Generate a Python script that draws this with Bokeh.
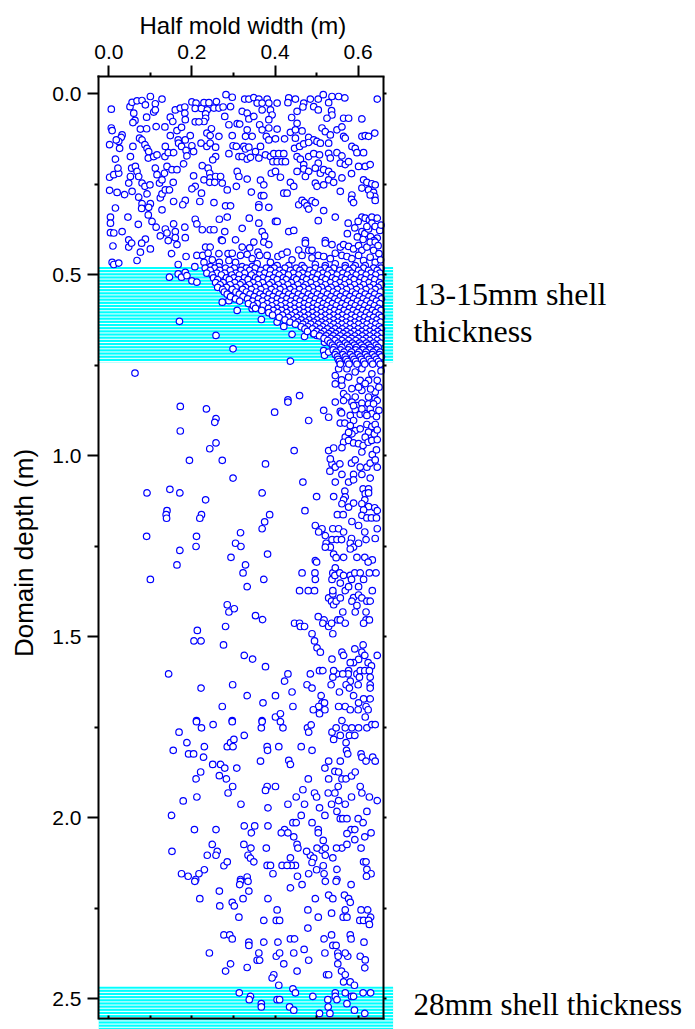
import numpy as np
from bokeh.plotting import figure
from bokeh.models import (Range1d, LinearAxis, FixedTicker, PrintfTickFormatter, Label,
                          CustomJSTickFormatter)
from bokeh.embed import file_html
from bokeh.resources import INLINE

# ---------------- data ----------------
x_major = [0.0, 0.2, 0.4, 0.6]
x_minor = [0.1, 0.3, 0.5]
y_major = [0.0, 0.5, 1.0, 1.5, 2.0, 2.5]
y_minor = [0.25, 0.75, 1.25, 1.75, 2.25]

shell_bands = [(0.478, 0.741), (2.466, 2.60)]
band_text = [["13-15mm shell", "thickness"], ["28mm shell thickness"]]

upper_pts = [
(0.006,0.042),(0.051,0.035),(0.056,0.023),(0.068,0.019),(0.080,0.018),(0.088,0.030),(0.100,0.007),(0.112,0.027),(0.128,0.014),(0.060,0.053),(0.063,0.073),(0.058,0.079),(0.091,0.064),(0.108,0.050),(0.112,0.044),(0.148,0.064),(0.154,0.076),(0.160,0.044),(0.172,0.039),(0.183,0.036),(0.183,0.053),(0.184,0.071),(0.200,0.022),(0.210,0.025),(0.208,0.040),(0.223,0.040),(0.229,0.024),(0.241,0.024),(0.259,0.021),(0.237,0.044),(0.233,0.055),(0.233,0.067),(0.229,0.076),(0.253,0.039),(0.265,0.039),(0.275,0.036),(0.279,0.062),(0.282,0.002),(0.297,0.009),(0.293,0.035),(0.327,0.014),(0.337,0.014),(0.349,0.010),(0.361,0.014),(0.381,0.014),(0.357,0.025),(0.369,0.025),(0.385,0.025),(0.405,0.025),(0.321,0.048),(0.333,0.053),(0.337,0.069),(0.349,0.062),(0.369,0.044),(0.389,0.044),(0.393,0.058),(0.385,0.071),(0.433,0.011),(0.449,0.014),(0.431,0.024),(0.469,0.025),(0.453,0.048),(0.440,0.065),(0.467,0.036),(0.485,0.014),(0.504,0.014),(0.516,0.002),(0.537,0.007),(0.553,0.007),(0.568,0.011),(0.529,0.024),(0.493,0.035),(0.504,0.044),(0.536,0.046),(0.537,0.058),(0.525,0.067),(0.565,0.067),(0.577,0.067),(0.609,0.069),(0.646,0.014),
(0.006,0.094),(0.008,0.101),(0.032,0.113),(0.030,0.120),(0.002,0.140),(0.024,0.131),(0.076,0.097),(0.091,0.096),(0.074,0.122),(0.114,0.090),(0.135,0.091),(0.164,0.101),(0.175,0.092),(0.148,0.115),(0.167,0.127),(0.184,0.127),(0.196,0.115),(0.208,0.077),(0.217,0.077),(0.247,0.096),(0.236,0.108),(0.244,0.115),(0.265,0.117),(0.289,0.085),(0.309,0.082),(0.315,0.083),(0.297,0.115),(0.333,0.099),(0.329,0.117),(0.345,0.117),(0.363,0.085),(0.369,0.099),(0.385,0.094),(0.405,0.097),(0.379,0.117),(0.385,0.127),(0.401,0.124),(0.423,0.124),(0.437,0.106),(0.449,0.099),(0.465,0.102),(0.453,0.081),(0.449,0.122),(0.481,0.120),(0.493,0.127),(0.513,0.094),(0.521,0.104),(0.533,0.113),(0.549,0.099),(0.561,0.091),(0.565,0.117),(0.569,0.122),(0.609,0.117),(0.617,0.115),(0.625,0.117),(0.640,0.108),
(0.018,0.127),(0.026,0.150),(0.016,0.180),(0.052,0.173),(0.058,0.145),(0.080,0.127),(0.087,0.140),(0.092,0.150),(0.096,0.159),(0.095,0.177),(0.108,0.173),(0.116,0.168),(0.136,0.145),(0.135,0.173),(0.143,0.162),(0.156,0.162),(0.168,0.136),(0.175,0.145),(0.186,0.156),(0.188,0.171),(0.200,0.143),(0.204,0.159),(0.222,0.136),(0.236,0.145),(0.244,0.136),(0.257,0.147),(0.257,0.173),(0.250,0.182),(0.289,0.165),(0.299,0.143),(0.307,0.145),(0.313,0.173),(0.325,0.145),(0.329,0.152),(0.337,0.147),(0.321,0.173),(0.333,0.180),(0.341,0.175),(0.353,0.159),(0.365,0.145),(0.361,0.177),(0.377,0.168),(0.389,0.173),(0.397,0.165),(0.409,0.165),(0.421,0.165),(0.395,0.187),(0.405,0.187),(0.417,0.187),(0.425,0.187),(0.447,0.150),(0.459,0.145),(0.469,0.138),(0.481,0.134),(0.501,0.131),(0.509,0.136),(0.529,0.136),(0.549,0.162),(0.561,0.171),(0.557,0.191),(0.569,0.195),(0.577,0.187),(0.585,0.145),(0.593,0.150),(0.597,0.162),(0.613,0.162),(0.481,0.173),(0.493,0.165),(0.507,0.168),(0.529,0.164),(0.533,0.177),(0.453,0.173),(0.461,0.180),(0.504,0.191),
(0.002,0.230),(0.012,0.223),(0.024,0.219),(0.022,0.205),(0.055,0.205),(0.052,0.228),(0.048,0.246),(0.064,0.200),(0.068,0.214),(0.072,0.228),(0.080,0.246),(0.087,0.255),(0.099,0.251),(0.112,0.205),(0.116,0.223),(0.122,0.246),(0.128,0.237),(0.134,0.219),(0.140,0.200),(0.152,0.209),(0.164,0.209),(0.155,0.244),(0.180,0.193),(0.204,0.226),(0.208,0.255),(0.225,0.198),(0.229,0.237),(0.239,0.205),(0.243,0.219),(0.244,0.232),(0.243,0.244),(0.257,0.228),(0.269,0.228),(0.255,0.244),(0.273,0.246),(0.309,0.214),(0.313,0.228),(0.307,0.255),(0.333,0.235),(0.365,0.238),(0.373,0.251),(0.391,0.219),(0.401,0.214),(0.413,0.230),(0.437,0.244),(0.445,0.255),(0.453,0.214),(0.469,0.195),(0.469,0.207),(0.481,0.214),(0.473,0.228),(0.497,0.205),(0.509,0.219),(0.517,0.209),(0.529,0.214),(0.537,0.223),(0.529,0.237),(0.541,0.244),(0.497,0.246),(0.501,0.255),(0.517,0.251),(0.561,0.232),(0.584,0.220),(0.613,0.237),(0.621,0.244),(0.633,0.248),(0.641,0.251),(0.617,0.200),(0.629,0.195),(0.601,0.200),
(0.002,0.266),(0.020,0.272),(0.038,0.278),(0.056,0.269),(0.072,0.285),(0.092,0.276),(0.080,0.303),(0.079,0.316),(0.100,0.303),(0.096,0.313),(0.124,0.287),(0.128,0.276),(0.136,0.265),(0.146,0.265),(0.156,0.297),(0.128,0.320),(0.184,0.294),(0.178,0.306),(0.200,0.262),(0.223,0.274),(0.219,0.297),(0.253,0.300),(0.285,0.265),(0.281,0.309),(0.293,0.309),(0.343,0.271),(0.367,0.281),(0.373,0.281),(0.361,0.306),(0.361,0.313),(0.385,0.313),(0.421,0.274),(0.429,0.274),(0.457,0.306),(0.465,0.294),(0.471,0.300),(0.477,0.309),(0.489,0.295),(0.497,0.300),(0.481,0.318),(0.517,0.322),(0.557,0.269),(0.585,0.279),(0.584,0.291),(0.589,0.300),(0.609,0.260),(0.625,0.265),(0.637,0.272),(0.640,0.283),(0.641,0.294),(0.629,0.279),
(0.016,0.315),(0.004,0.340),(0.004,0.357),(0.004,0.383),(0.012,0.384),(0.032,0.380),(0.046,0.340),(0.048,0.403),(0.071,0.360),(0.088,0.401),(0.095,0.334),(0.104,0.352),(0.114,0.368),(0.124,0.392),(0.136,0.373),(0.140,0.384),(0.156,0.359),(0.160,0.380),(0.160,0.397),(0.184,0.397),(0.183,0.368),(0.208,0.346),(0.212,0.359),(0.225,0.375),(0.244,0.375),(0.253,0.375),(0.266,0.346),(0.279,0.380),(0.285,0.340),(0.271,0.403),(0.305,0.403),(0.321,0.371),(0.338,0.343),(0.361,0.357),(0.369,0.380),(0.375,0.392),(0.401,0.352),(0.405,0.352),(0.433,0.380),(0.445,0.377),(0.473,0.405),(0.504,0.350),(0.521,0.405),(0.545,0.340),(0.574,0.386),(0.576,0.357),(0.609,0.340),(0.617,0.343),(0.627,0.348),(0.633,0.340),(0.646,0.343),(0.609,0.380),(0.616,0.386),(0.625,0.373),(0.630,0.394),(0.646,0.398),(0.633,0.357),(0.621,0.366),
(0.600,0.352),(0.641,0.366),(0.652,0.377),(0.598,0.395),(0.612,0.402),(0.638,0.405),(0.655,0.362),(0.592,0.370),
]

band_upper_pts = [
(0.010,0.420),(0.048,0.423),(0.055,0.412),(0.079,0.412),(0.076,0.437),(0.068,0.460),(0.008,0.465),(0.012,0.471),(0.024,0.467),(0.100,0.428),(0.143,0.405),(0.164,0.416),(0.151,0.441),(0.186,0.449),(0.212,0.446),(0.167,0.471),(0.207,0.477),(0.233,0.423),(0.244,0.423),(0.226,0.446),(0.239,0.440),(0.229,0.465),(0.249,0.458),(0.265,0.441),(0.266,0.465),(0.273,0.405),(0.287,0.441),(0.297,0.440),(0.289,0.460),(0.305,0.465),(0.317,0.446),(0.321,0.423),(0.339,0.425),(0.349,0.409),(0.333,0.443),(0.345,0.455),(0.359,0.437),(0.363,0.446),(0.373,0.409),(0.385,0.416),(0.381,0.446),(0.389,0.465),(0.357,0.469),(0.407,0.449),(0.417,0.443),(0.429,0.437),(0.441,0.458),(0.457,0.431),(0.473,0.412),(0.481,0.432),(0.489,0.432),(0.465,0.446),(0.489,0.453),(0.504,0.446),(0.517,0.449),(0.521,0.412),(0.537,0.416),(0.545,0.440),(0.533,0.455),(0.557,0.423),(0.565,0.416),(0.577,0.421),(0.589,0.428),(0.601,0.419),(0.609,0.432),(0.621,0.423),(0.629,0.409),(0.641,0.409),(0.648,0.419),(0.637,0.432),(0.650,0.441),(0.561,0.446),(0.573,0.449),(0.585,0.455),(0.601,0.446),(0.613,0.460),(0.629,0.451),(0.641,0.465),(0.654,0.458),(0.617,0.474),(0.593,0.474),(0.569,0.474),(0.545,0.469),(0.521,0.474),(0.497,0.471),(0.465,0.474),(0.433,0.474),(0.405,0.474),(0.345,0.477),(0.321,0.477),(0.265,0.477),(0.245,0.477),
]

band_outlier_pts = [
(0.146,0.506),(0.167,0.497),(0.175,0.506),(0.184,0.493),(0.188,0.502),(0.200,0.516),(0.212,0.520),(0.170,0.628),(0.258,0.667),(0.299,0.704),(0.437,0.738),(0.063,0.771),(0.273,0.575),(0.289,0.571),(0.309,0.598),(0.367,0.623),(0.345,0.593),(0.377,0.589),(0.389,0.603),(0.405,0.630),(0.421,0.642),(0.441,0.664),(0.449,0.626),(0.471,0.670),(0.493,0.663),(0.501,0.667),(0.519,0.686),(0.517,0.709),(0.519,0.722),(0.529,0.713),
]

band_depths = [0.481, 0.487, 0.495, 0.500, 0.508, 0.513, 0.521, 0.527, 0.534, 0.540, 0.547, 0.553, 0.560, 0.566,
               0.572, 0.579, 0.585, 0.592, 0.598, 0.604, 0.611, 0.617, 0.624, 0.630, 0.636, 0.643, 0.649, 0.656,
               0.662, 0.668, 0.675, 0.681, 0.688, 0.694, 0.700, 0.707, 0.713, 0.720, 0.726, 0.733, 0.739, 0.746]
band_rows = [
[0.232,0.255,0.281,0.302,0.331,0.352,0.379,0.398,0.424,0.451,0.470,0.497,0.520,0.541,0.569,0.588,0.613,0.637,0.655],
[0.244,0.267,0.292,0.318,0.339,0.366,0.389,0.411,0.437,0.460,0.484,0.509,0.530,0.556,0.578,0.601,0.625,0.646],
[0.236,0.260,0.279,0.306,0.327,0.349,0.375,0.401,0.419,0.444,0.466,0.492,0.515,0.536,0.563,0.585,0.608,0.631,0.652],
[0.249,0.271,0.296,0.314,0.343,0.362,0.387,0.410,0.432,0.457,0.479,0.503,0.526,0.549,0.574,0.595,0.619,0.642],
[0.252,0.283,0.301,0.326,0.353,0.371,0.396,0.420,0.446,0.468,0.489,0.514,0.538,0.561,0.583,0.607,0.631,0.655],
[0.262,0.290,0.312,0.335,0.359,0.383,0.405,0.427,0.452,0.476,0.498,0.522,0.546,0.569,0.590,0.616,0.640],
[0.257,0.275,0.303,0.321,0.347,0.370,0.392,0.417,0.439,0.463,0.486,0.509,0.533,0.556,0.578,0.602,0.626,0.651],
[0.268,0.292,0.316,0.338,0.360,0.386,0.408,0.431,0.455,0.474,0.499,0.521,0.545,0.567,0.591,0.613,0.637,0.656],
[0.262,0.283,0.306,0.329,0.352,0.376,0.399,0.420,0.444,0.468,0.490,0.512,0.535,0.559,0.581,0.604,0.628,0.648],
[0.274,0.297,0.322,0.343,0.366,0.391,0.412,0.436,0.459,0.481,0.504,0.528,0.550,0.572,0.596,0.619,0.641],
[0.278,0.306,0.331,0.355,0.379,0.401,0.425,0.447,0.470,0.493,0.517,0.540,0.562,0.586,0.608,0.632,0.654],
[0.285,0.314,0.340,0.364,0.386,0.410,0.433,0.456,0.480,0.502,0.526,0.549,0.571,0.594,0.617,0.640],
[0.293,0.323,0.350,0.372,0.395,0.419,0.442,0.465,0.488,0.511,0.535,0.557,0.580,0.603,0.626,0.650],
[0.305,0.334,0.360,0.382,0.405,0.428,0.451,0.474,0.497,0.520,0.544,0.566,0.589,0.612,0.635,0.656],
[0.315,0.346,0.370,0.392,0.415,0.438,0.460,0.483,0.507,0.529,0.552,0.575,0.598,0.621,0.644],
[0.336,0.357,0.381,0.403,0.425,0.447,0.470,0.493,0.516,0.538,0.561,0.584,0.607,0.630,0.652],
[0.348,0.372,0.393,0.414,0.436,0.458,0.480,0.502,0.525,0.547,0.570,0.593,0.616,0.639],
[0.353,0.384,0.405,0.426,0.447,0.468,0.490,0.512,0.534,0.557,0.579,0.602,0.625,0.648],
[0.368,0.396,0.416,0.437,0.458,0.479,0.500,0.521,0.543,0.566,0.588,0.611,0.634,0.655],
[0.385,0.407,0.428,0.449,0.469,0.490,0.511,0.531,0.553,0.575,0.597,0.620,0.642],
[0.394,0.418,0.440,0.460,0.480,0.500,0.521,0.541,0.562,0.584,0.606,0.628,0.650],
[0.410,0.432,0.452,0.471,0.491,0.511,0.531,0.551,0.572,0.593,0.615,0.637,0.656],
[0.424,0.444,0.463,0.482,0.501,0.521,0.541,0.561,0.582,0.603,0.624,0.645],
[0.436,0.455,0.474,0.493,0.512,0.531,0.551,0.571,0.592,0.612,0.633,0.654],
[0.449,0.467,0.486,0.504,0.522,0.541,0.561,0.581,0.601,0.621,0.642],
[0.463,0.479,0.497,0.515,0.533,0.551,0.570,0.590,0.610,0.630,0.650],
[0.472,0.490,0.508,0.526,0.544,0.562,0.580,0.600,0.619,0.639,0.656],
[0.478,0.500,0.518,0.536,0.554,0.572,0.590,0.609,0.628,0.647],
[0.494,0.511,0.529,0.546,0.564,0.582,0.600,0.618,0.637,0.655],
[0.507,0.523,0.540,0.557,0.574,0.592,0.610,0.628,0.646],
[0.518,0.534,0.550,0.567,0.584,0.601,0.619,0.637,0.655],
[0.527,0.544,0.561,0.577,0.594,0.611,0.628,0.646],
[0.533,0.552,0.569,0.586,0.603,0.620,0.637,0.654],
[0.538,0.556,0.574,0.591,0.608,0.625,0.643],
[0.542,0.561,0.579,0.596,0.613,0.630,0.648],
[0.540,0.558,0.576,0.594,0.611,0.628,0.645],
[0.547,0.566,0.584,0.602,0.619,0.636,0.653],
[0.545,0.563,0.581,0.599,0.617,0.634,0.651],
[0.550,0.569,0.587,0.605,0.622,0.640,0.656],
[0.552,0.571,0.590,0.608,0.626,0.644],
[0.555,0.575,0.594,0.613,0.631,0.649],
[0.557,0.578,0.597,0.616,0.635,0.653],
]

transition_pts = [
(0.545,0.778),(0.561,0.805),(0.565,0.828),(0.573,0.837),(0.593,0.768),(0.605,0.791),(0.609,0.819),(0.625,0.837),(0.641,0.823),(0.650,0.810),(0.633,0.773),(0.577,0.782),(0.585,0.814),(0.641,0.842),(0.593,0.837),(0.646,0.791),(0.553,0.759),(0.609,0.759),(0.625,0.791),(0.573,0.759),(0.601,0.810),(0.545,0.801),(0.459,0.833),(0.431,0.845),(0.617,0.800),(0.655,0.765),(0.560,0.790),(0.630,0.815),
]

mid_pts = [
(0.172,0.863),(0.235,0.870),(0.258,0.897),(0.255,0.907),(0.172,0.931),(0.258,0.964),(0.243,0.980),(0.194,1.012),(0.273,1.012),(0.377,1.022),(0.299,1.061),(0.399,0.879),(0.431,0.851),(0.481,0.902),(0.446,0.985),(0.467,1.072),(0.092,1.102),(0.147,1.092),(0.171,1.102),(0.233,1.121),(0.369,1.102),(0.500,1.112),(0.140,1.151),(0.138,1.162),(0.139,1.172),(0.223,1.162),(0.219,1.172),(0.387,1.162),(0.375,1.182),(0.472,1.151),(0.091,1.222),(0.211,1.222),(0.317,1.212),(0.305,1.241),(0.318,1.250),(0.369,1.201),(0.171,1.261),(0.210,1.250),(0.294,1.280),(0.382,1.271),(0.497,1.192),(0.497,1.289),
(0.517,0.874),(0.529,0.893),(0.557,0.877),(0.560,0.881),(0.557,0.909),(0.568,0.909),(0.545,0.851),(0.565,0.847),(0.585,0.851),(0.597,0.861),(0.609,0.854),(0.625,0.856),(0.646,0.847),(0.593,0.872),(0.605,0.885),(0.617,0.883),(0.629,0.870),(0.633,0.883),(0.644,0.891),(0.581,0.888),(0.589,0.902),(0.581,0.916),(0.593,0.930),(0.585,0.939),(0.605,0.925),(0.621,0.913),(0.633,0.919),(0.641,0.913),(0.625,0.934),(0.617,0.948),(0.569,0.948),(0.565,0.962),(0.577,0.957),(0.589,0.964),(0.601,0.966),(0.612,0.971),(0.624,0.962),(0.633,0.957),(0.646,0.955),(0.529,0.985),(0.541,0.978),(0.561,0.977),(0.609,0.989),(0.634,0.996),(0.644,0.983),
(0.537,1.022),(0.533,1.008),(0.545,1.031),(0.532,1.042),(0.556,1.022),(0.584,1.020),(0.593,1.011),(0.605,1.031),(0.621,1.031),(0.629,1.020),(0.646,1.031),(0.641,1.011),(0.561,1.051),(0.545,1.072),(0.577,1.072),(0.589,1.051),(0.589,1.066),(0.609,1.051),(0.629,1.061),(0.612,1.091),(0.625,1.091),(0.568,1.097),(0.541,1.112),(0.569,1.113),(0.565,1.121),(0.561,1.132),(0.577,1.141),(0.589,1.130),(0.617,1.104),(0.625,1.102),(0.616,1.121),(0.609,1.132),(0.625,1.140),(0.640,1.143),(0.646,1.151),(0.613,1.149),(0.609,1.164),(0.621,1.171),(0.632,1.171),(0.644,1.171),(0.550,1.162),(0.564,1.162),(0.585,1.181),(0.601,1.192),(0.616,1.210),(0.646,1.201),
(0.513,1.201),(0.505,1.210),(0.521,1.220),(0.539,1.201),(0.553,1.201),(0.565,1.210),(0.537,1.231),(0.549,1.231),(0.560,1.231),(0.584,1.228),(0.523,1.241),(0.533,1.252),(0.521,1.252),(0.581,1.241),(0.589,1.252),(0.601,1.241),(0.581,1.257),(0.541,1.271),(0.565,1.280),(0.547,1.281),(0.597,1.280),(0.616,1.280),(0.634,1.287),(0.619,1.231),(0.641,1.228),
(0.589,0.861),(0.609,0.870),(0.621,0.888),(0.637,0.856),(0.650,0.874),(0.577,0.935),(0.639,0.939),(0.646,0.928),
]

lower_pts = [
(0.164,1.301),(0.100,1.341),(0.329,1.301),(0.323,1.323),(0.333,1.361),(0.373,1.341),(0.285,1.411),(0.289,1.431),(0.302,1.422),(0.353,1.441),(0.370,1.452),(0.281,1.471),(0.213,1.482),(0.205,1.511),(0.222,1.511),(0.276,1.522),(0.326,1.551),(0.346,1.561),(0.377,1.582),(0.144,1.602),(0.222,1.641),(0.298,1.632),(0.333,1.662),(0.273,1.692),(0.371,1.682),(0.401,1.662),(0.423,1.622),(0.431,1.602),(0.441,1.652),(0.443,1.692),(0.401,1.721),(0.413,1.712),(0.211,1.731),(0.297,1.731),(0.369,1.731),
(0.447,1.462),(0.459,1.462),(0.461,1.471),(0.471,1.471),(0.465,1.323),(0.459,1.372),(0.480,1.372),(0.495,1.372),(0.496,1.323),(0.497,1.341),(0.500,1.293),(0.489,1.491),(0.495,1.511),(0.501,1.530),(0.509,1.542),(0.485,1.602),(0.477,1.632),(0.489,1.641),(0.507,1.593),(0.515,1.593),
(0.504,1.444),(0.518,1.453),(0.515,1.462),(0.529,1.471),(0.539,1.491),(0.536,1.462),(0.551,1.453),(0.557,1.453),(0.569,1.462),(0.529,1.392),(0.539,1.381),(0.539,1.372),(0.536,1.401),(0.541,1.411),(0.547,1.401),(0.557,1.392),(0.563,1.431),(0.569,1.372),(0.537,1.341),(0.539,1.323),(0.545,1.309),(0.544,1.330),(0.556,1.323),(0.565,1.330),(0.557,1.351),(0.581,1.330),(0.584,1.341),(0.592,1.323),(0.605,1.323),(0.613,1.341),(0.627,1.323),(0.643,1.323),(0.624,1.293),
(0.577,1.361),(0.601,1.361),(0.634,1.372),(0.589,1.391),(0.601,1.384),(0.609,1.392),(0.621,1.401),(0.629,1.401),(0.585,1.401),(0.597,1.413),(0.593,1.431),(0.619,1.431),(0.619,1.453),(0.627,1.453),(0.613,1.462),
(0.561,1.542),(0.565,1.551),(0.592,1.533),(0.612,1.522),(0.609,1.542),(0.616,1.551),(0.601,1.562),(0.589,1.571),(0.581,1.571),(0.624,1.571),(0.632,1.580),(0.646,1.551),(0.577,1.593),(0.597,1.602),(0.605,1.593),(0.616,1.593),(0.627,1.593),(0.576,1.602),(0.549,1.602),(0.563,1.602),(0.539,1.611),(0.603,1.611),(0.629,1.611),(0.581,1.622),(0.571,1.632),(0.579,1.641),(0.600,1.632),(0.629,1.632),(0.629,1.641),(0.535,1.632),(0.555,1.652),(0.589,1.662),(0.613,1.671),(0.629,1.671),(0.601,1.682),(0.619,1.692),(0.624,1.701),(0.617,1.721),(0.600,1.701),(0.569,1.692),(0.581,1.701),(0.553,1.692),
(0.511,1.662),(0.513,1.682),(0.519,1.682),(0.505,1.692),(0.492,1.701),(0.507,1.712),(0.520,1.701),(0.561,1.731),(0.537,1.561),(0.541,1.593),
]

deep_pts = [
(0.211,1.734),(0.223,1.751),(0.251,1.742),(0.297,1.734),(0.367,1.751),(0.369,1.734),(0.413,1.734),(0.419,1.751),(0.478,1.751),(0.481,1.763),(0.487,1.743),(0.169,1.763),(0.188,1.792),(0.155,1.813),(0.192,1.823),(0.204,1.823),(0.230,1.803),(0.228,1.832),(0.285,1.803),(0.293,1.792),(0.301,1.783),(0.299,1.803),(0.326,1.772),(0.381,1.803),(0.382,1.813),(0.409,1.803),(0.463,1.803),(0.489,1.813),
(0.250,1.852),(0.269,1.852),(0.279,1.862),(0.221,1.873),(0.210,1.892),(0.266,1.883),(0.283,1.892),(0.308,1.862),(0.365,1.843),(0.433,1.841),(0.437,1.852),(0.298,1.913),(0.287,1.931),(0.212,1.942),(0.179,1.953),(0.318,1.962),(0.151,1.993),(0.381,1.913),(0.377,1.924),(0.401,1.913),(0.383,1.972),(0.431,1.962),(0.451,1.942),(0.467,1.922),(0.480,1.892),(0.495,1.931),(0.500,1.942),(0.471,1.962),(0.463,1.993),(0.443,2.013),(0.451,2.013),(0.489,2.013),(0.507,1.972),(0.520,1.993),
(0.520,1.862),(0.529,1.843),(0.557,1.843),(0.544,1.871),(0.553,1.873),(0.529,1.892),(0.552,1.913),(0.561,1.892),(0.571,1.892),(0.584,1.884),(0.593,1.873),(0.528,1.931),(0.544,1.931),(0.553,1.952),(0.569,1.962),(0.584,1.942),(0.605,1.913),(0.609,1.931),(0.627,1.942),(0.646,1.952),(0.536,1.962),(0.549,1.982),(0.557,2.002),(0.563,2.002),(0.573,2.002),(0.600,2.002),(0.612,2.013),(0.621,1.982),
(0.537,1.763),(0.547,1.751),(0.541,1.783),(0.557,1.772),(0.569,1.751),(0.585,1.751),(0.601,1.751),(0.621,1.751),(0.633,1.742),(0.641,1.742),(0.579,1.772),(0.592,1.772),(0.571,1.792),(0.572,1.813),(0.575,1.823),(0.607,1.823),(0.609,1.832),(0.619,1.843),(0.635,1.832),(0.641,1.843),
(0.583,2.032),(0.592,2.032),(0.573,2.043),(0.592,2.060),(0.616,2.052),(0.631,2.041),(0.561,2.083),(0.548,2.083),(0.573,2.073),(0.607,2.083),(0.516,2.062),(0.513,2.089),(0.521,2.083),(0.539,2.110),(0.521,2.103),(0.501,2.083),(0.485,2.103),(0.476,2.092),(0.493,2.111),(0.489,2.123),(0.516,2.132),(0.549,2.142),(0.481,2.154),(0.500,2.143),(0.518,2.154),(0.454,2.161),
(0.453,2.073),(0.455,2.083),(0.437,2.110),(0.449,2.131),(0.439,2.131),(0.417,2.131),(0.429,2.131),(0.423,2.032),(0.415,2.041),(0.431,2.041),(0.445,2.052),(0.504,2.032),(0.504,2.041),(0.383,2.022),(0.379,2.083),(0.351,2.022),(0.343,2.041),(0.326,2.022),(0.325,2.073),(0.342,2.083),(0.335,2.103),(0.341,2.111),(0.349,2.121),(0.381,2.131),(0.389,2.131),(0.395,2.154),(0.333,2.163),(0.317,2.170),
(0.258,2.032),(0.206,2.032),(0.249,2.073),(0.261,2.092),(0.258,2.103),(0.237,2.103),(0.152,2.092),(0.277,2.132),(0.285,2.121),(0.230,2.143),(0.217,2.154),(0.191,2.161),(0.175,2.154),(0.209,2.170),(0.549,2.170),(0.613,2.121),(0.619,2.121),(0.621,2.142),(0.631,2.154),(0.620,2.161),
]

bottom_pts = [
(0.207,2.175),(0.317,2.175),(0.315,2.184),(0.335,2.175),(0.337,2.202),(0.266,2.202),(0.219,2.223),(0.267,2.243),(0.297,2.233),(0.302,2.243),(0.323,2.223),(0.313,2.274),(0.383,2.223),(0.373,2.283),(0.405,2.254),(0.403,2.283),(0.411,2.283),(0.437,2.193),(0.465,2.184),(0.521,2.175),(0.547,2.175),(0.583,2.184),(0.497,2.223),(0.529,2.213),(0.539,2.223),(0.567,2.213),(0.577,2.223),(0.581,2.233),(0.479,2.254),(0.504,2.274),(0.536,2.263),(0.564,2.274),(0.573,2.274),(0.569,2.254),(0.607,2.254),(0.623,2.254),(0.630,2.274),(0.604,2.283),(0.613,2.283),(0.625,2.283),(0.627,2.294),(0.479,2.304),
(0.277,2.323),(0.291,2.323),(0.297,2.334),(0.337,2.343),(0.337,2.352),(0.373,2.343),(0.407,2.343),(0.437,2.334),(0.447,2.334),(0.518,2.334),(0.536,2.323),(0.539,2.352),(0.547,2.352),(0.581,2.323),(0.583,2.334),(0.614,2.343),(0.242,2.373),(0.293,2.403),(0.281,2.423),(0.333,2.413),(0.361,2.373),(0.357,2.393),(0.363,2.393),(0.403,2.382),(0.411,2.373),(0.421,2.403),(0.445,2.373),(0.470,2.363),(0.481,2.393),(0.453,2.423),(0.520,2.373),(0.551,2.373),(0.552,2.382),(0.575,2.382),(0.569,2.373),(0.551,2.403),(0.560,2.423),(0.569,2.433),(0.565,2.453),(0.581,2.453),(0.591,2.462),(0.605,2.382),(0.617,2.392),(0.616,2.414),(0.524,2.433),(0.529,2.433),(0.397,2.433),(0.393,2.442),(0.409,2.462),
(0.314,2.483),(0.341,2.493),(0.338,2.502),(0.367,2.513),(0.367,2.522),(0.405,2.502),(0.411,2.502),(0.435,2.522),(0.445,2.531),(0.443,2.472),(0.449,2.483),(0.491,2.493),(0.527,2.502),(0.545,2.483),(0.545,2.493),(0.549,2.502),(0.569,2.483),(0.584,2.493),(0.589,2.493),(0.573,2.513),(0.612,2.483),(0.630,2.483),(0.528,2.522),(0.507,2.540),(0.532,2.540),(0.591,2.531),(0.616,2.540),
]

# ---------------- assemble ----------------
pt_groups = [upper_pts, band_upper_pts, band_outlier_pts, transition_pts, mid_pts, lower_pts, deep_pts, bottom_pts]
xs = [pt[0] for g in pt_groups for pt in g]
ys = [pt[1] for g in pt_groups for pt in g]
for d, row in zip(band_depths, band_rows):
    xs.extend(row)
    ys.extend([d] * len(row))

# plot box (drawn by the axes) and data window
BOX_L, BOX_R, BOX_T, BOX_B = -0.0248, 0.660, -0.0483, 2.555
PX_X, PX_Y = 415.6, 362.0            # pixels per metre
W, H, ML, MT = 695, 1029, 98, 76
X_END = BOX_L + (W - ML) / PX_X
Y_END = BOX_T + (H - MT) / PX_Y
BAND_R = 0.684
FONT = "Liberation Sans"

p = figure(width=W, height=H, x_range=Range1d(BOX_L, X_END), y_range=Range1d(Y_END, BOX_T),
           x_axis_location="above", y_axis_location="left",
           output_backend="svg", toolbar_location=None,
           min_border_left=ML, min_border_right=0, min_border_top=MT, min_border_bottom=0)
p.outline_line_color = None
p.xgrid.visible = False
p.ygrid.visible = False
p.background_fill_color = "white"
p.border_fill_color = "white"

# x-axis title (placed as the figure title so it can sit over the box, not the whole frame)
p.title.text = "Half mold width (m)"
p.title.text_font = FONT
p.title.text_font_size = "24px"
p.title.text_font_style = "normal"
p.title.text_color = "black"
p.title.align = "left"
p.title.offset = 41
p.title.standoff = 5

blank = CustomJSTickFormatter(code="return ''")


def base_style(ax):
    ax.axis_line_color = "black"
    ax.axis_line_width = 2
    ax.axis_line_cap = "square"
    ax.major_tick_line_color = "black"
    ax.minor_tick_line_color = "black"
    ax.major_tick_line_width = 2
    ax.minor_tick_line_width = 2
    ax.major_label_text_font = FONT
    ax.major_label_text_color = "black"
    ax.axis_label_text_font = FONT
    ax.axis_label_text_font_style = "normal"
    ax.axis_label_text_color = "black"


# top axis
top = p.xaxis[0]
base_style(top)
top.ticker = FixedTicker(ticks=x_major, minor_ticks=x_minor)
top.formatter = PrintfTickFormatter(format="%.1f")
top.bounds = (BOX_L, BOX_R)
top.major_tick_out, top.major_tick_in = 11, 0
top.minor_tick_out, top.minor_tick_in = 4, 0
top.major_label_text_font_size = "21px"
top.major_label_standoff = 7

# left axis
left = p.yaxis[0]
base_style(left)
left.ticker = FixedTicker(ticks=y_major, minor_ticks=y_minor)
left.formatter = PrintfTickFormatter(format="%.1f")
left.bounds = (BOX_T, BOX_B)
left.major_tick_out, left.major_tick_in = 11, 0
left.minor_tick_out, left.minor_tick_in = 4, 0
left.major_label_text_font_size = "21px"
left.major_label_standoff = 6
left.axis_label = "Domain depth (m)"
left.axis_label_text_font_size = "26px"
left.axis_label_standoff = 10

# right edge of the box: mirror axis (ticks pointing outwards = "in" for a left-panel axis)
right = LinearAxis(ticker=FixedTicker(ticks=y_major, minor_ticks=y_minor), formatter=blank)
base_style(right)
right.fixed_location = BOX_R
right.bounds = (BOX_T, BOX_B)
right.major_tick_out, right.major_tick_in = 0, 3
right.minor_tick_out, right.minor_tick_in = 0, 3
right.major_label_text_font_size = "0px"
right.major_label_standoff = 0
p.add_layout(right, "left")

# bottom edge of the box: mirror axis with inward ticks
bottom = LinearAxis(ticker=FixedTicker(ticks=x_major, minor_ticks=x_minor), formatter=blank)
base_style(bottom)
bottom.fixed_location = BOX_B
bottom.bounds = (BOX_L, BOX_R)
bottom.major_tick_out, bottom.major_tick_in = 0, 3
bottom.minor_tick_out, bottom.minor_tick_in = 0, 3
bottom.major_label_text_font_size = "0px"
bottom.major_label_standoff = 0
p.add_layout(bottom, "below")

# shell thickness bands (cyan with fine white stripes)
stripe_step = 3.17 / PX_Y
for (b_top, b_bot) in shell_bands:
    p.quad(left=BOX_L, right=BAND_R, top=b_top, bottom=b_bot, fill_color="#00ffff", line_color=None)
    sy = np.arange(b_top + stripe_step * 0.8, b_bot, stripe_step)
    p.segment(x0=[BOX_L] * len(sy), x1=[BAND_R] * len(sy), y0=sy, y1=sy, line_color="white", line_width=1)

# particles
p.scatter(xs, ys, marker="circle", size=6.5, line_color="#0000ff", line_width=1.2, fill_color="white")

# annotations
lab_x = 0.733
for txt, yy in zip(band_text[0], [0.553, 0.655]):
    p.add_layout(Label(x=lab_x, y=yy, text=txt, text_font="Liberation Serif", text_font_size="32px",
                       text_baseline="alphabetic", text_color="black"))
p.add_layout(Label(x=lab_x, y=2.515, text=band_text[1][0], text_font="Liberation Serif", text_font_size="31px",
                   text_baseline="alphabetic", text_color="black"))

open("out.html", "w").write(file_html(p, INLINE))
